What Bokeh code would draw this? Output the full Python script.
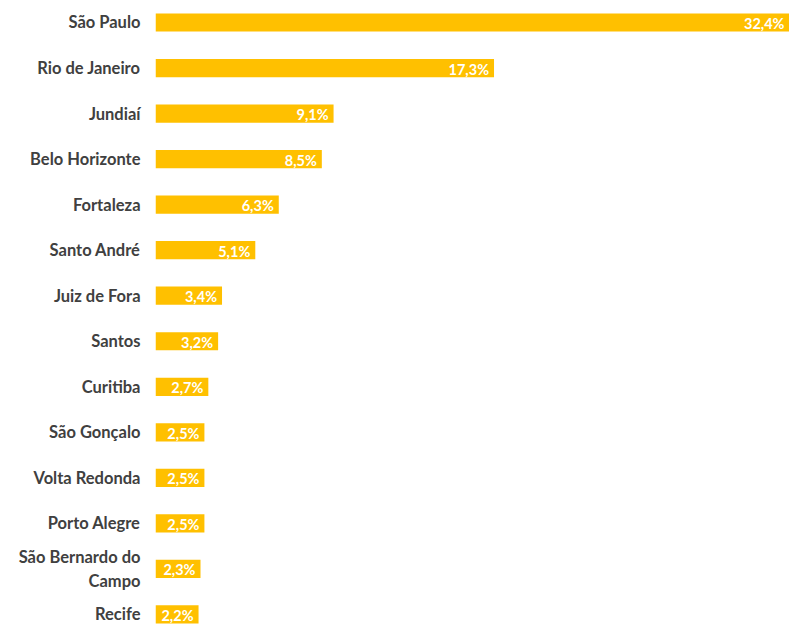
from bokeh.plotting import figure
from bokeh.models import Range1d, FixedTicker, ColumnDataSource
from bokeh.core.properties import value
from bokeh.embed import file_html
from bokeh.resources import INLINE

cities = ["São Paulo", "Rio de Janeiro", "Jundiaí", "Belo Horizonte", "Fortaleza",
          "Santo André", "Juiz de Fora", "Santos", "Curitiba", "São Gonçalo",
          "Volta Redonda", "Porto Alegre", "São Bernardo do\nCampo", "Recife"]
shares = [32.4, 17.3, 9.1, 8.5, 6.3, 5.1, 3.4, 3.2, 2.7, 2.5, 2.5, 2.5, 2.3, 2.2]
labels = [f"{v:.1f}%".replace(".", ",") for v in shares]

pos = list(range(len(cities)))
src = ColumnDataSource(dict(y=pos, v=shares, lab=labels))

p = figure(width=789, height=624, output_backend="svg", toolbar_location=None,
           x_range=Range1d(0, 32.4), y_range=Range1d(13.22, -0.483),
           min_border_left=155, min_border_right=0, min_border_top=0, min_border_bottom=0)
p.outline_line_color = None
p.xgrid.visible = False
p.ygrid.visible = False
p.xaxis.visible = False
p.background_fill_color = "white"

p.hbar(y="y", left=0, right="v", height=0.4, source=src, color="#FFC000", line_color=None)
p.text(x="v", y="y", text="lab", source=src, x_offset=-5, y_offset=1,
       text_align="right", text_baseline="middle", text_color="white",
       text_font=value("Lato"), text_font_style="bold", text_font_size="14.5px")

ax = p.yaxis[0]
ax.ticker = FixedTicker(ticks=pos)
ax.major_label_overrides = {i: c for i, c in enumerate(cities)}
ax.axis_line_color = None
ax.major_tick_line_color = None
ax.minor_tick_line_color = None
ax.major_tick_in = 0
ax.major_tick_out = 0
ax.major_label_standoff = 15
ax.major_label_text_align = "center"
ax.major_label_text_font = "Lato"
ax.major_label_text_font_style = "bold"
ax.major_label_text_font_size = "16.5px"
ax.major_label_text_color = "#404040"

open("out.html", "w").write(file_html(p, INLINE))
